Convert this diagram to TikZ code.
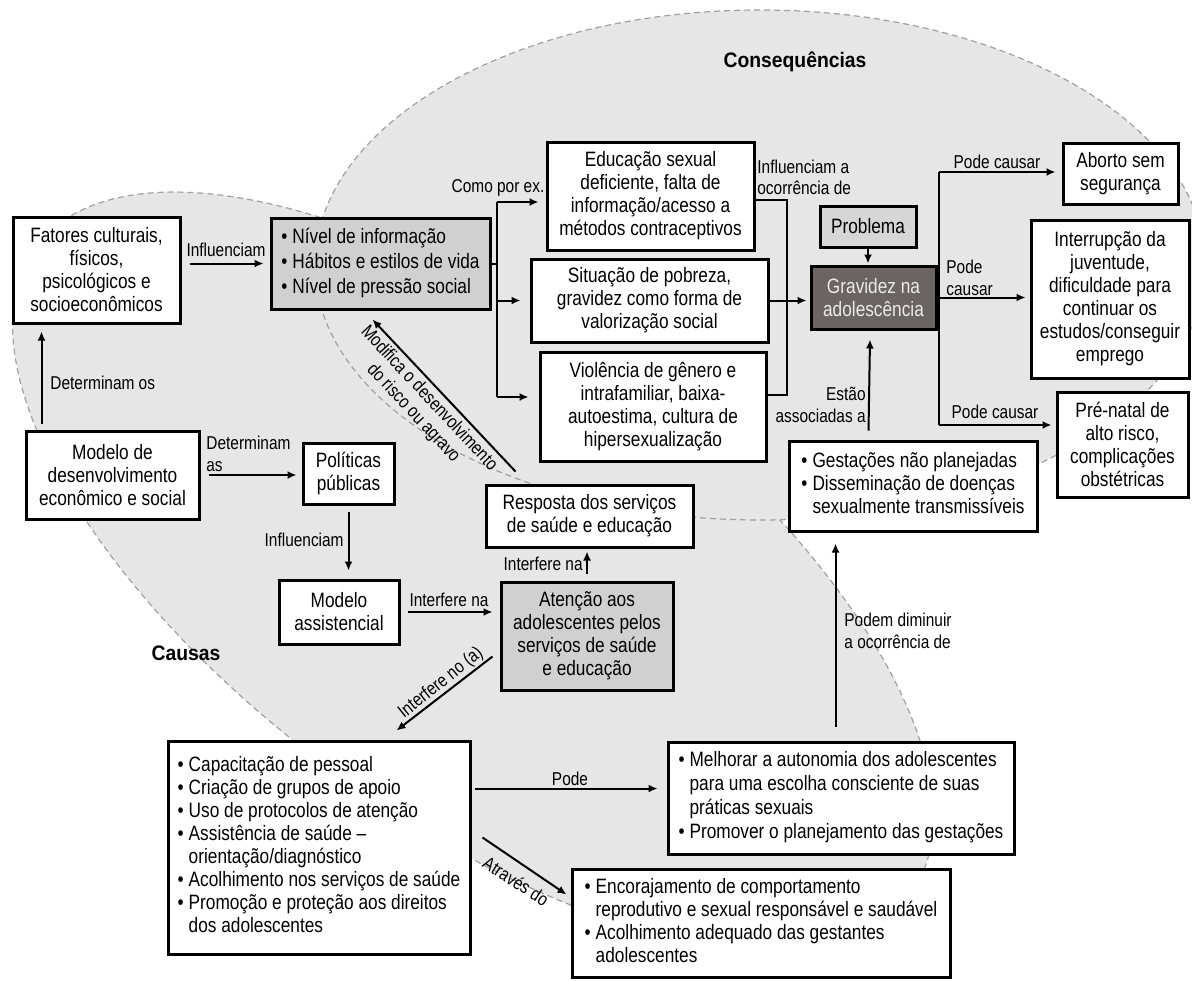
\documentclass[tikz,border=0pt]{standalone}
\usepackage{fontspec}
\setmainfont[FakeStretch=0.83]{Liberation Sans}
\newfontfamily\titlefont[FakeStretch=0.92]{Liberation Sans}
\usetikzlibrary{arrows.meta,calc}
\newcommand{\boxfont}{\fontsize{10.4}{11.5}\selectfont}
\newcommand{\labfont}{\fontsize{9.3}{10.75}\selectfont}
\newcommand{\blist}[1]{\begin{tabular}{@{}l@{\hspace{2.5pt}}l@{}}#1\end{tabular}}
\definecolor{blobfill}{RGB}{230,230,230}
\definecolor{blobline}{RGB}{160,160,160}
\definecolor{midgray}{RGB}{208,208,208}
\definecolor{lightgraybox}{RGB}{214,214,214}
\definecolor{darkbox}{RGB}{106,100,98}
\begin{document}
\begin{tikzpicture}[x=0.5pt, y=-0.5pt,
  box/.style={draw, line width=1.5pt, fill=white, inner sep=1pt, align=center, font=\boxfont},
  lab/.style={font=\labfont, inner sep=0pt},
  arr/.style={line width=1pt, -{Latex[length=4.5pt,width=4pt]}},
  ln/.style={line width=1pt},
  blob/.style={fill=blobfill, draw=blobline, line width=0.6pt, dash pattern=on 3pt off 2pt},
  ttl/.style={font={\titlefont\fontsize{10.5}{12}\selectfont\bfseries}, inner sep=0pt}
]
\useasboundingbox (0,0) rectangle (1192,980);
\begin{scope}
  \clip (0,0) rectangle (1192,980);
  \begin{scope}[shift={(473,571)}, rotate=-36.6]
    \draw[blob] (0,0) ellipse [x radius=272pt, y radius=122pt];
  \end{scope}
  \draw[blob] (760,265) ellipse [x radius=222.5pt, y radius=127.5pt];
\end{scope}

\node[ttl] (tc) at (795,62) {Consequências};
\node[ttl] (tk) at (186,653) {Causas};

% boxes
\node[box, minimum width=83.5pt, minimum height=53pt] (A) at (96.5,270) {Fatores culturais,\\físicos,\\psicológicos e\\socioeconômicos};
\node[box, fill=midgray, minimum width=109.5pt, minimum height=45.5pt] (B) at (380.5,263.5) {\renewcommand{\arraystretch}{1.1}\blist{\textbullet & Nível de informação\\ \textbullet & Hábitos e estilos de vida\\ \textbullet & Nível de pressão social}};
\node[box, minimum width=103.5pt, minimum height=54pt] (C) at (650.5,196) {Educação sexual\\deficiente, falta de\\informação/acesso a\\métodos contraceptivos};
\node[box, minimum width=118.5pt, minimum height=41.5pt] (D) at (649.5,300.5) {Situação de pobreza,\\gravidez como forma de\\valorização social};
\node[box, minimum width=113pt, minimum height=54.5pt] (E) at (653,406.5) {Violência de gênero e\\intrafamiliar, baixa-\\autoestima, cultura de\\hipersexualização};
\node[box, fill=lightgraybox, minimum width=48pt, minimum height=20.5pt] (F) at (868,226.5) {Problema};
\node[box, fill=darkbox, text=white!92!black, minimum width=62.5pt, minimum height=31.5pt] (G) at (873.5,297.5) {Gravidez na\\adolescência};
\node[box, minimum width=57.5pt, minimum height=30.5pt] (H) at (1120.5,173.5) {Aborto sem\\segurança};
\node[box, minimum width=79pt, minimum height=79pt] (I) at (1110,299) {Interrupção da\\juventude,\\dificuldade para\\continuar os\\estudos/conseguir\\emprego};
\node[box, minimum width=65.5pt, minimum height=52.5pt] (J) at (1122.5,444.5) {Pré-natal de\\alto risco,\\complicações\\obstétricas};
\node[box, minimum width=124pt, minimum height=45pt] (K) at (913,486) {\blist{\textbullet & Gestações não planejadas\\ \textbullet & Disseminação de doenças\\ & sexualmente transmissíveis}};
\node[box, minimum width=103.5pt, minimum height=31pt] (L) at (589.5,516) {Resposta dos serviços\\de saúde e educação};
\node[box, minimum width=86.5pt, minimum height=44pt] (M) at (112.5,475) {Modelo de\\desenvolvimento\\econômico e social};
\node[box, minimum width=45.5pt, minimum height=30.5pt] (N) at (348.5,473.5) {Políticas\\públicas};
\node[box, minimum width=60pt, minimum height=32pt] (O) at (339,612) {Modelo\\assistencial};
\node[box, fill=midgray, minimum width=86pt, minimum height=54pt] (P) at (587,636) {Atenção aos\\adolescentes pelos\\serviços de saúde\\e educação};
\node[box, minimum width=151pt, minimum height=106.5pt] (Q) at (319,847.5) {\blist{\textbullet & Capacitação de pessoal\\ \textbullet & Criação de grupos de apoio\\ \textbullet & Uso de protocolos de atenção\\ \textbullet & Assistência de saúde –\\ & orientação/diagnóstico\\ \textbullet & Acolhimento nos serviços de saúde\\ \textbullet & Promoção e proteção aos direitos\\ & dos adolescentes}};
\node[box, minimum width=173pt, minimum height=56pt] (R) at (841,798) {\renewcommand{\arraystretch}{1.04}\blist{\textbullet & Melhorar a autonomia dos adolescentes\\ & para uma escolha consciente de suas\\ & práticas sexuais\\ \textbullet & Promover o planejamento das gestações}};
\node[box, minimum width=189pt, minimum height=54pt] (S) at (761,923) {\blist{\textbullet & Encorajamento de comportamento\\ & reprodutivo e sexual responsável e saudável\\ \textbullet & Acolhimento adequado das gestantes\\ & adolescentes}};

% connectors
\draw[arr, shorten <=4pt, shorten >=3pt] (A.east |- B.west) -- (B.west);
\node[lab] at (226,250) {Influenciam};

\draw[arr, shorten <=3pt, shorten >=3.5pt] ($(M.north west)+(17,0)$) -- ($(A.south west)+(30,0)$);
\node[lab, anchor=west] at (50,383) {Determinam os};

\draw[arr, shorten <=4pt, shorten >=2.5pt] (M.east) -- (M.east -| N.west);
\node[lab, anchor=west, align=left] at (206,454) {Determinam\\as};

\draw[arr, shorten <=3pt, shorten >=4pt] (N.south) -- (N.south |- O.north);
\node[lab, anchor=east] at (344,540) {Influenciam};

\draw[arr, shorten <=3.5pt, shorten >=3.5pt] (O.east) -- (O.east -| P.west);
\node[lab] at (449,600) {Interfere na};

\draw[arr, shorten <=3.5pt, shorten >=1.5pt] (P.north) -- (P.north |- L.south);
\node[lab, anchor=east] at (583,564) {Interfere na};

\draw[arr] ($(L.north west)+(31,-12)$) -- ($(B.south)+(-8,9)$);
\node[lab, rotate=-46.9, align=center] at (421,406) {Modifica o desenvolvimento\\do risco ou agravo};

\draw[arr] ($(P.south west)+(-7,-35)$) -- ($(Q.north west)+(230,-9)$);
\node[lab, rotate=38.7] at (441,683) {Interfere no (a)};

\draw[arr] ($(Q.north east)+(3,49)$) -- ($(R.north west)+(-9,48)$);
\node[lab] at (570,779) {Pode};

\draw[arr] ($(Q.north east)+(11,98)$) -- ($(S.north west)+(-4,27)$);
\node[lab, rotate=-33] at (516,881) {Através do};

\draw[arr] ($(R.north west)+(169,-14)$) -- ($(K.south west)+(48,11)$);
\node[lab, anchor=west, align=left] at (844,631) {Podem diminuir\\a ocorrência de};

\draw[arr] ($(K.north west)+(81,-9)$) -- ($(G.south)+(-3.5,9)$);
\node[lab, anchor=east, align=right] at (866,405) {Estão\\associadas a};

\draw[arr, shorten >=0.5pt] (F.south) -- (F.south |- G.north);

% branch B -> C, D, E
\coordinate (bt) at (497,202);
\coordinate (bb) at (497,397);
\draw[ln] (B.east) -- (B.east -| bt);
\draw[ln] (bt) -- (bb);
\draw[arr, shorten >=3.5pt] (bt) -- (bt -| C.west);
\draw[arr, shorten >=4.5pt] (bt |- D.west) -- (D.west);
\draw[arr, shorten >=5pt] (bb) -- (bb -| E.west);
\node[lab] at (498,188) {Como por ex.};

% C, D, E -> G
\coordinate (ct) at (787,200);
\coordinate (cb) at (787,395);
\draw[ln] (C.east |- ct) -- (ct) -- (cb) -- (E.east |- cb);
\draw[arr, shorten >=1.5pt] (D.east) -- (D.east -| G.west);
\node[lab, anchor=west, align=left] at (757,177.5) {Influenciam a\\ocorrência de};

% G -> H, I, J
\coordinate (gt) at (939,172);
\coordinate (gb) at (939,425);
\draw[ln] (gt) -- (gb);
\draw[arr, shorten >=3pt] (gt) -- (gt -| H.west);
\draw[arr, shorten >=2pt] (G.east) -- (G.east -| I.west);
\draw[arr, shorten >=2pt] (gb) -- (gb -| J.west);
\node[lab] at (997,162) {Pode causar};
\node[lab, anchor=west, align=left] at (946,278) {Pode\\causar};
\node[lab] at (995,412) {Pode causar};
\end{tikzpicture}
\end{document}
